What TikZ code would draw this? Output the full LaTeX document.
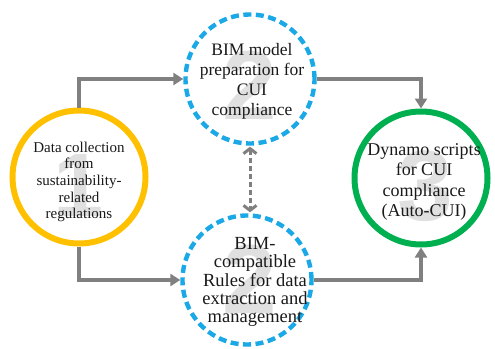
\documentclass[tikz,border=0pt]{standalone}
\usepackage{fontspec}
\setmainfont{Liberation Serif}
\newfontfamily\numfont{Liberation Sans}
\usetikzlibrary{arrows.meta}
\definecolor{cyel}{HTML}{FFC000}
\definecolor{cblue}{HTML}{1BA8E6}
\definecolor{cgreen}{HTML}{00B050}
\definecolor{carrow}{HTML}{808080}
\definecolor{cnum}{HTML}{E0E0E0}
\begin{document}
\begin{tikzpicture}[x=1pt,y=-1pt,
  stage/.style={circle, minimum size=#1, inner sep=0pt},
  solidring/.style={stage=133pt, line width=6pt},
  dashring/.style={stage=129pt, line width=4.4pt, draw=cblue, dash pattern=on 8pt off 4.5pt},
  numeral/.style={font=\numfont\bfseries\fontsize{#1}{#1}\selectfont, text=cnum, inner sep=0pt},
  label/.style={align=center, text=black!90},
  flow/.style={draw=carrow, line width=3.4pt, -{Triangle[length=10pt,width=12pt]}},
  link/.style={draw=carrow, line width=3pt, dash pattern=on 5pt off 3pt,
     {Straight Barb[length=5pt,width=13pt,line width=3pt]}-{Straight Barb[length=5pt,width=13pt,line width=3pt]}}
]
\useasboundingbox (0,0) rectangle (495,348);
% numerals
\node[numeral=90] (n1) at (79,186) {1};
\node[numeral=98] (n2a) at (250,85) {2};
\node[numeral=98] (n2b) at (250,279) {2};
\node[numeral=100] (n3) at (425,186) {3};
% rings
\node[solidring, draw=cyel] (c1) at (79,177) {};
\node[dashring] (c2) at (250,79) {};
\node[dashring] (c4) at (247,280) {};
\node[solidring, draw=cgreen] (c3) at (421,178) {};
% labels
\node[label, font=\fontsize{15}{16.7}\selectfont] (t1) at (79,182) {Data collection\\from\\sustainability-\\related\\regulations};
\node[label, font=\fontsize{17.5}{20}\selectfont] (t2) at (252,81) {BIM model\\preparation for\\CUI\\compliance};
\node[label, font=\fontsize{18.5}{18.3}\selectfont] (t4) at (255,282) {BIM-\\compatible\\Rules for data\\extraction and\\management};
\node[label, font=\fontsize{18}{20.5}\selectfont] (t3) at (424,182) {Dynamo scripts\\for CUI\\compliance\\(Auto-CUI)};
% connectors
\draw[flow] (c1.north) |- (c2.west);
\draw[flow] (c1.south) |- (c4.west);
\draw[flow] (c2.east) -| (c3.north);
\draw[flow] (c4.east) -| (c3.south);
\draw[link] ([yshift=-1pt]c2.south) -- ([yshift=1pt]c2.south |- c4.north);
\end{tikzpicture}
\end{document}
